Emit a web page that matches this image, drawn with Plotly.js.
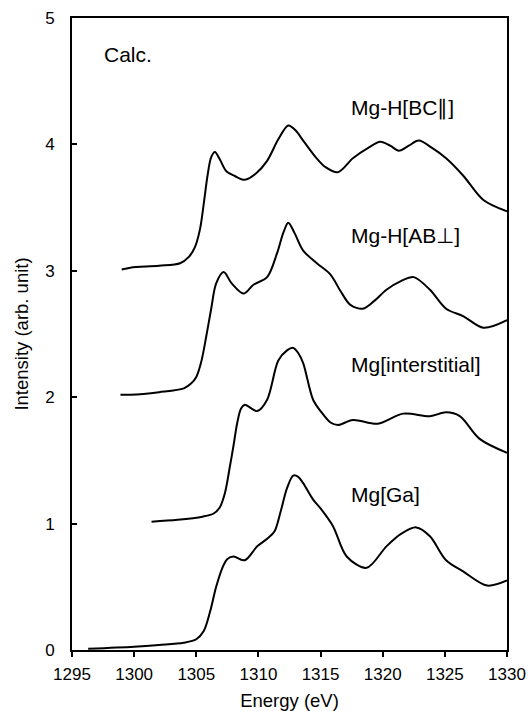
<!DOCTYPE html>
<html>
<head>
<meta charset="utf-8">
<script src="https://cdn.plot.ly/plotly-3.0.1.min.js"></script>
<style>html,body{margin:0;padding:0;background:#fff;}</style>
</head>
<body>
<div id="chart" style="width:528px;height:711px;"></div>
<script>
// Mg-H[BC∥] (offset +3)
const bcE = [1299.0,1299.7,1302.0,1303.7,1304.4,1304.9,1305.3,1305.6,1305.9,1306.2,1306.5,1306.9,1307.4,1308.1,1308.9,1309.8,1310.7,1311.6,1312.4,1313.0,1313.6,1314.6,1315.4,1316.4,1317.6,1318.8,1319.8,1320.6,1321.3,1322.1,1322.9,1324.0,1325.1,1326.5,1328.1,1330.0];
const bcI = [3.01,3.025,3.04,3.06,3.11,3.19,3.33,3.53,3.75,3.90,3.94,3.88,3.79,3.75,3.72,3.77,3.87,4.04,4.15,4.11,4.03,3.90,3.82,3.78,3.89,3.97,4.02,3.99,3.95,3.99,4.03,3.97,3.89,3.75,3.56,3.47];
// Mg-H[AB⊥] (offset +2)
const abE = [1298.9,1299.7,1302.0,1304.0,1304.6,1305.0,1305.4,1305.8,1306.2,1306.6,1307.2,1307.85,1308.8,1309.6,1310.7,1311.5,1312.0,1312.4,1312.9,1313.6,1314.7,1315.8,1316.6,1317.4,1318.4,1319.3,1320.3,1321.5,1322.5,1323.8,1325.1,1326.5,1328.1,1330.0];
const abI = [2.02,2.02,2.04,2.07,2.11,2.16,2.28,2.48,2.70,2.90,2.99,2.90,2.82,2.89,2.95,3.14,3.30,3.38,3.30,3.16,3.06,2.97,2.84,2.73,2.70,2.76,2.85,2.92,2.95,2.85,2.70,2.64,2.55,2.61];
// Mg[interstitial] (offset +1)
const inE = [1301.4,1303.5,1305.5,1306.4,1306.9,1307.3,1307.7,1308.0,1308.3,1308.6,1308.9,1309.9,1310.7,1311.6,1312.3,1312.8,1313.2,1313.6,1314.4,1315.0,1315.8,1316.4,1317.6,1319.6,1321.65,1323.8,1325.1,1326.2,1327.8,1330.0];
const inI = [1.015,1.03,1.055,1.08,1.13,1.24,1.45,1.62,1.80,1.91,1.94,1.89,1.98,2.29,2.37,2.39,2.35,2.27,1.98,1.89,1.80,1.78,1.82,1.79,1.87,1.85,1.88,1.85,1.67,1.56];
// Mg[Ga] (offset 0)
const gaE = [1296.3,1300.0,1302.0,1304.0,1305.0,1305.6,1306.1,1306.6,1307.1,1307.5,1308.0,1308.9,1309.9,1310.7,1311.3,1311.8,1312.3,1312.8,1313.2,1313.6,1314.4,1315.0,1316.0,1317.1,1318.7,1320.3,1321.5,1322.7,1323.8,1325.1,1326.5,1328.4,1330.0];
const gaI = [0.01,0.026,0.04,0.058,0.085,0.15,0.30,0.50,0.65,0.72,0.74,0.71,0.82,0.88,0.94,1.10,1.28,1.38,1.37,1.32,1.19,1.12,0.98,0.74,0.65,0.82,0.92,0.97,0.90,0.71,0.62,0.51,0.55];

const labels = ["Calc.", "Mg-H[BC\u2225]", "Mg-H[AB\u22A5]", "Mg[interstitial]", "Mg[Ga]"];
const labelE = [1297.4, 1317.3, 1317.3, 1317.3, 1317.3];
const labelI = [4.71, 4.29, 3.28, 2.26, 1.23];

const xTicks = [1295,1300,1305,1310,1315,1320,1325,1330];
const yTicks = [0,1,2,3,4,5];

const lineStyle = {color:'#000', width:2, shape:'spline', smoothing:0.9};
const series = [[bcE,bcI],[abE,abI],[inE,inI],[gaE,gaI]];
const data = series.map(s => ({x:s[0], y:s[1], mode:'lines', line:lineStyle, showlegend:false, hoverinfo:'skip'}));

const annotations = labels.map((t,i) => ({
  text:t, x:labelE[i], y:labelI[i], xref:'x', yref:'y', xanchor:'left', yanchor:'middle',
  showarrow:false, font:{family:'Arial, Liberation Sans, sans-serif', size:21, color:'#000'}
}));

const layout = {
  width:528, height:711,
  margin:{l:72, r:21, t:18, b:61, pad:0},
  paper_bgcolor:'#fff', plot_bgcolor:'#fff',
  font:{family:'Arial, Liberation Sans, sans-serif', color:'#000', size:17},
  xaxis:{
    range:[1295,1330], tickvals:xTicks, ticktext:xTicks.map(String),
    ticks:'outside', ticklen:5, tickwidth:2, tickcolor:'#000',
    showline:true, linewidth:2, linecolor:'#000', mirror:true,
    showgrid:false, zeroline:false,
    tickfont:{size:17}, ticklabelstandoff:3,
    title:{text:'Energy (eV)', font:{size:18.5}, standoff:15}
  },
  yaxis:{
    range:[0,5], tickvals:yTicks, ticktext:yTicks.map(String),
    ticks:'inside', ticklen:5, tickwidth:2, tickcolor:'#000',
    showline:true, linewidth:2, linecolor:'#000', mirror:true,
    showgrid:false, zeroline:false,
    tickfont:{size:17}, ticklabelstandoff:12,
    title:{text:'Intensity (arb. unit)', font:{size:18.5}, standoff:12}
  },
  annotations:annotations
};

Plotly.newPlot('chart', data, layout, {staticPlot:true, displayModeBar:false});
</script>
</body>
</html>
